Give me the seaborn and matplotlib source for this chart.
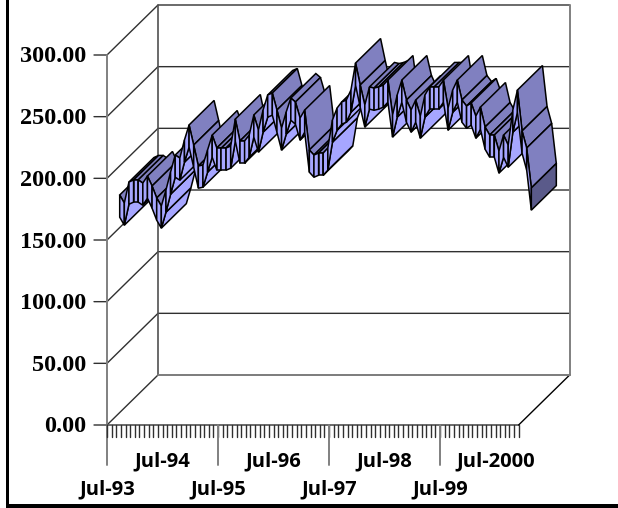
import matplotlib
matplotlib.use('Agg')
import matplotlib.pyplot as plt
import seaborn as sns
import pandas as pd

# monthly values (Jul-93 onwards)
values = [167.4, 160.9, 177.9, 179.6, 179.6, 177.1, 182.8, 174.7, 165.0, 158.5,
          171.4, 186.0, 199.8, 197.4, 212.0, 224.2, 207.9, 190.9, 191.7, 203.9,
          216.0, 205.5, 205.5, 205.5, 207.1, 229.0, 211.2, 211.2, 216.0, 232.3,
          220.1, 236.3, 248.5, 250.1, 236.3, 221.7, 234.7, 246.0, 242.8, 229.8,
          236.3, 203.9, 199.8, 201.4, 201.4, 205.5, 228.2, 237.9, 242.8, 244.4,
          252.5, 274.4, 256.6, 240.4, 255.0, 254.1, 255.0, 256.6, 260.6, 232.3,
          248.5, 260.6, 244.4, 236.3, 244.4, 231.4, 248.5, 255.0, 255.0, 255.0,
          260.6, 237.9, 252.5, 260.6, 244.4, 239.5, 242.0, 231.4, 238.7, 222.5,
          216.0, 216.0, 203.1, 216.0, 207.9, 236.3, 252.5, 219.3, 205.5, 173.1]
y_ticks = [0, 50, 100, 150, 200, 250, 300]
x_labels = ['Jul-93', 'Jul-94', 'Jul-95', 'Jul-96', 'Jul-97', 'Jul-98', 'Jul-99', 'Jul-2000']
n_ticks = 89

TOP = '#8080C0'
LIGHT = '#A6A6FF'
CAP = '#5A5A8A'
GRAY = '#808080'

# oblique projection, everything ends in picture pixels
X0, Y0 = 107, 425
DX = 4.625
DY = 370 / 300
WALL = 51
FRONT, BACK = 12.7, 37.7
HALF = 9


def px(k, depth=0):
    return X0 + DX * k + depth


def py(v, depth=0):
    return Y0 - DY * v - depth * 50 / 51


def quad(k1, v1, k2, v2, offset, face, z):
    # flat face of the ribbon, going front to back
    xs = [px(k1, FRONT), px(k2, FRONT), px(k2, BACK), px(k1, BACK)]
    ys = [py(v1 + offset, FRONT), py(v2 + offset, FRONT), py(v2 + offset, BACK), py(v1 + offset, BACK)]
    ax.fill(xs, ys, facecolor=face, edgecolor='black', lw=1.1, zorder=z)


sns.set_theme(style='white')
fig = plt.figure(figsize=(6.18, 5.08), dpi=100)
ax = fig.add_axes([0, 0, 1, 1])
ax.set_xlim(0, 618)
ax.set_ylim(508, 0)

# walls and grid
rows = []
line = 0
for t in y_ticks:
    for x, y in [(X0 - 13, py(t)), (X0, py(t)), (X0 + WALL, py(t, WALL)), (px(n_ticks, WALL), py(t, WALL))]:
        rows.append({'x': x, 'y': y, 'line': line})
    line += 1
grid = pd.DataFrame(rows)
sns.lineplot(data=grid, x='x', y='y', units='line', estimator=None, sort=False,
             color='#303030', lw=1, ax=ax, legend=False, zorder=1)

ax.plot([X0, X0], [py(300), 465], color=GRAY, lw=1.4, zorder=2)
ax.plot([X0 + WALL, X0 + WALL], [py(300, WALL), py(0, WALL)], color='#505050', lw=1.2, zorder=2)
ax.plot([px(n_ticks, WALL)] * 2, [py(300, WALL), py(0, WALL)], color=GRAY, lw=1.4, zorder=2)
ax.plot([X0, px(n_ticks)], [Y0, Y0], color='#505050', lw=1.2, zorder=2)
ax.plot([px(n_ticks), px(n_ticks, WALL)], [Y0, py(0, WALL)], color='black', lw=1, zorder=2)
ax.plot([X0 + WALL, px(n_ticks, WALL)], [py(0, WALL)] * 2, color=GRAY, lw=1.4, zorder=2)

# month ticks, a long one every second year
for k in range(n_ticks + 1):
    ax.plot([px(k), px(k)], [Y0, Y0 + 12], color='#303030', lw=1, zorder=2)
for k in range(24, n_ticks, 24):
    ax.plot([px(k), px(k)], [Y0, 465], color=GRAY, lw=1.4, zorder=2)

# ribbon, left to right so the nearer segments cover the others
for k in range(len(values) - 1):
    v1, v2 = values[k], values[k + 1]
    z = 10 + k
    rise = (v2 - v1) * DY
    if rise < DX * 50 / 51:
        quad(k, v1, k + 1, v2, HALF, TOP, z)
    else:
        quad(k, v1, k + 1, v2, -HALF, LIGHT, z)
    xs = [px(k, FRONT), px(k + 1, FRONT), px(k + 1, FRONT), px(k, FRONT)]
    ys = [py(v1 + HALF, FRONT), py(v2 + HALF, FRONT), py(v2 - HALF, FRONT), py(v1 - HALF, FRONT)]
    ax.fill(xs, ys, facecolor=LIGHT, edgecolor='black', lw=1.1, zorder=z + 0.5)

last = len(values) - 1
v = values[last]
ax.fill([px(last, FRONT), px(last, BACK), px(last, BACK), px(last, FRONT)],
        [py(v + HALF, FRONT), py(v + HALF, BACK), py(v - HALF, BACK), py(v - HALF, FRONT)],
        facecolor=CAP, edgecolor='black', lw=1.1, zorder=200)

# labels
for t in y_ticks:
    ax.text(86, py(t) + 2, f'{t:.2f}', ha='right', va='center', fontsize=17.5, fontweight='bold',
            family='Liberation Serif', color='black')
for i, lab in enumerate(x_labels):
    yy = 461 if i % 2 else 489
    ax.text(px(i * 12), yy, lab, ha='center', va='center', fontsize=14.5, fontweight='bold',
            family='Open Sans', color='black')

# picture frame
ax.fill([6, 9, 9, 6], [0, 0, 508, 508], color='black', lw=0, zorder=300)
ax.fill([6, 618, 618, 6], [504, 504, 508, 508], color='black', lw=0, zorder=300)

ax.set_axis_off()
fig.savefig('out.png', dpi=100)
